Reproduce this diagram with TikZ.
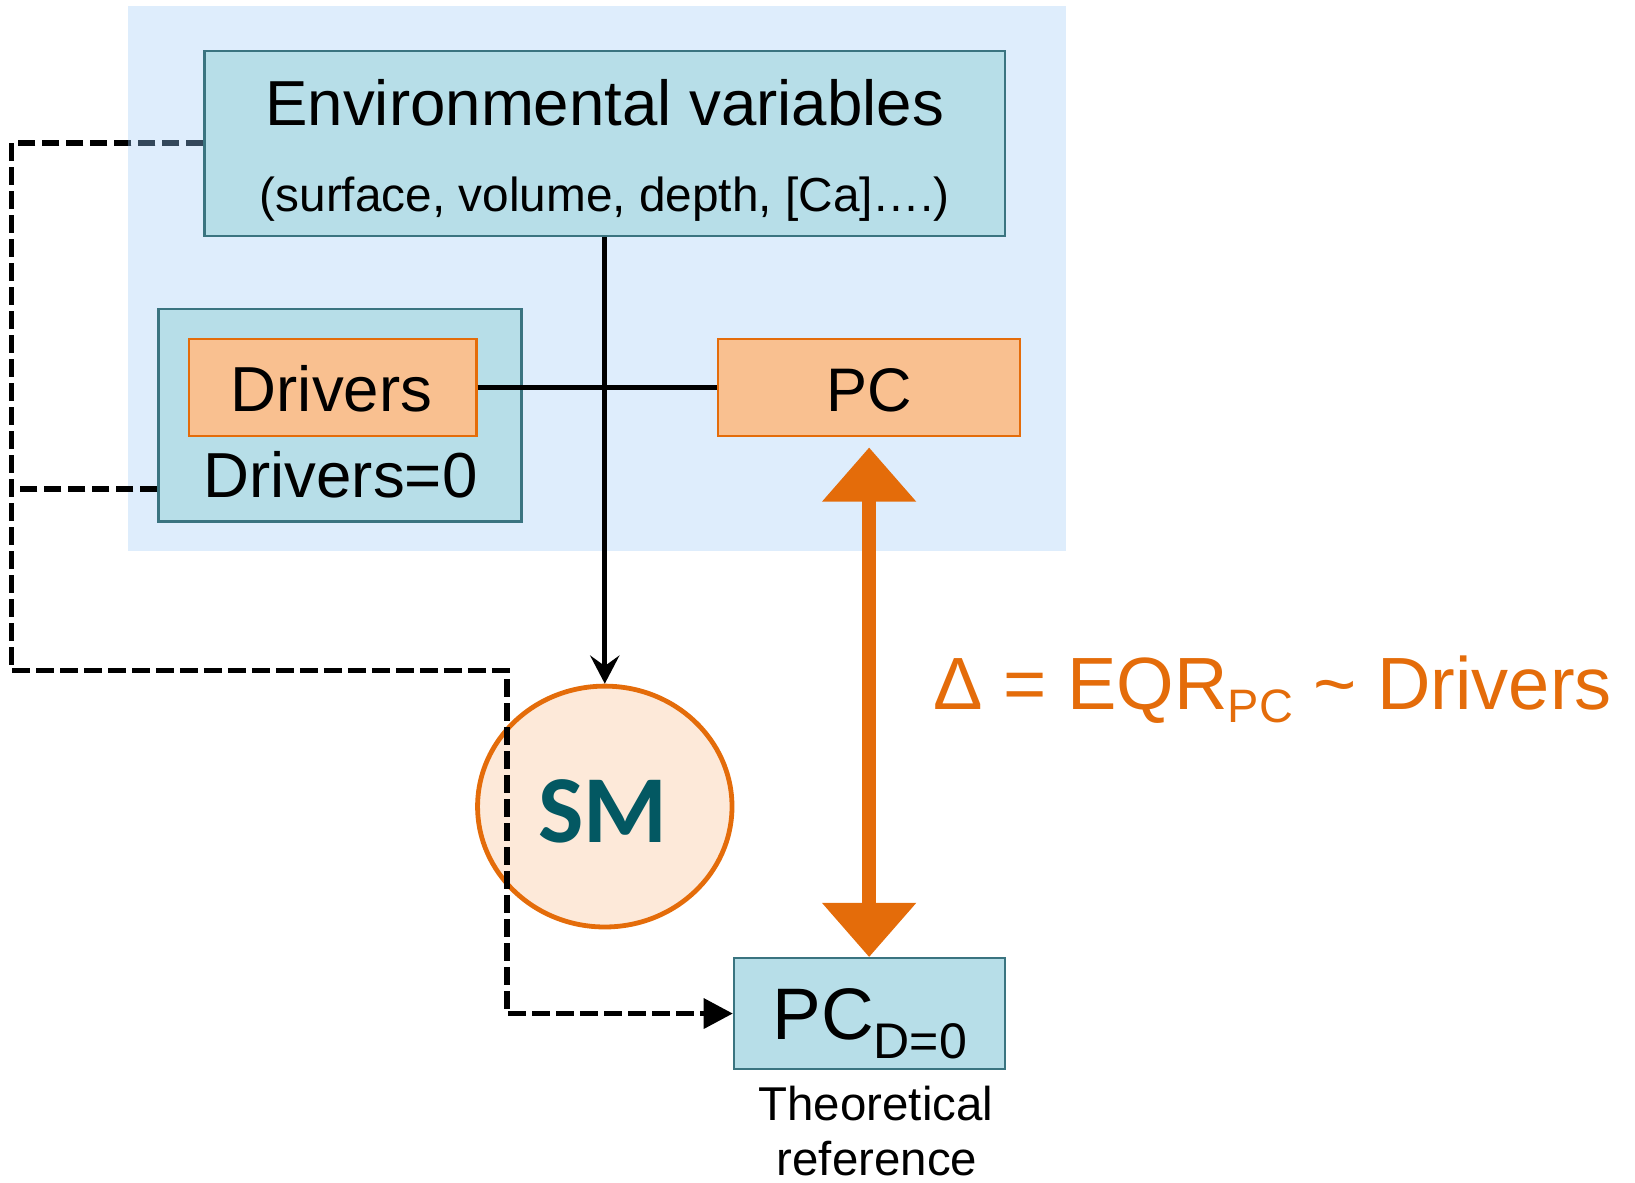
\documentclass[tikz,border=0pt]{standalone}
\usepackage{fontspec}
\setmainfont{Liberation Sans}
\newfontfamily\smfont{Carlito}
\usetikzlibrary{arrows.meta,calc,shapes.geometric}
\definecolor{bgblue}{HTML}{DEEDFC}
\definecolor{tealfill}{HTML}{B7DEE8}
\definecolor{tealdraw}{HTML}{3A7480}
\definecolor{orfill}{HTML}{F9C090}
\definecolor{ordraw}{HTML}{E46C0A}
\definecolor{smfill}{HTML}{FDE9D9}
\definecolor{smtext}{HTML}{035862}
\definecolor{slate}{HTML}{33475A}
\begin{document}
\begin{tikzpicture}[x=0.5pt,y=-0.5pt,
  tealbox/.style={draw=tealdraw,fill=tealfill,line width=1.1pt,inner sep=0pt},
  orbox/.style={draw=ordraw,fill=orfill,line width=1.1pt,inner sep=0pt},
  txt/.style={inner sep=0pt,anchor=base},
  solidline/.style={line width=2.3pt,black},
  dashline/.style={line width=2.8pt,black,dash pattern=on 8.5pt off 3pt}]
\useasboundingbox (0,0) rectangle (1568,1134);
\fill[bgblue] (123,6) rectangle (1022,528);
% boxes
\node[tealbox,minimum width=384pt,minimum height=88.5pt] (env) at (580,137.5) {};
\node[txt] (envtitle) at (580,120) {\fontsize{30.5}{36}\selectfont Environmental variables};
\node[txt] (envsub) at (580,203) {\fontsize{22.9}{27}\selectfont (surface, volume, depth, [Ca]….)};
\node[tealbox,minimum width=174pt,minimum height=102pt] (d0) at (326,398) {};
\node[orbox,minimum width=138pt,minimum height=46.5pt] (drv) at (319,371.5) {};
\node[txt] (drvtxt) at (318,395) {\fontsize{30.5}{36}\selectfont Drivers};
\node[txt] (d0txt) at (326.5,477) {\fontsize{30.5}{36}\selectfont Drivers=0};
\node[orbox,minimum width=145pt,minimum height=46.5pt] (pc) at (833.5,371.5) {};
\node[txt] (pctxt) at (833.5,395) {\fontsize{29.5}{34}\selectfont PC};
\node[ellipse,draw=ordraw,fill=smfill,line width=2.3pt,minimum width=122pt,minimum height=115.5pt,inner sep=0pt] (sm) at (580,773.5) {};
\node[txt,text=smtext] (smtxt) at (578,808) {\fontsize{46}{50}\smfont\bfseries SM};
\node[tealbox,minimum width=130pt,minimum height=53pt] (pc0) at (834,972) {};
\node[txt] (pc0txt) at (834,997) {\fontsize{35}{40}\selectfont PC\raisebox{-9pt}{\fontsize{24}{28}\selectfont D=0}};
\node[txt] (theo1) at (840,1075) {\fontsize{22.75}{27}\selectfont Theoretical};
\node[txt] (theo2) at (841,1127) {\fontsize{22.75}{27}\selectfont reference};
\node[txt,anchor=base west,text=ordraw] (delta) at (895,680) {\fontsize{35.5}{40}\selectfont Δ = EQR\raisebox{-6.5pt}{\fontsize{22.5}{26}\selectfont PC} \textasciitilde{} Drivers};
% connectors
\draw[solidline,-{Stealth[length=13.5pt,width=14pt,inset=5pt]}] (env.south) -- (sm.north);
\draw[solidline] (drv.east) -- (pc.west);
\draw[ordraw,line width=7pt,{Triangle[width=43.5pt,length=26pt]}-{Triangle[width=43.5pt,length=26pt]}] ([yshift=-5pt]pc.south) -- (pc.south |- pc0.north);
\coordinate (xl) at (11,0);
\coordinate (bgl) at (123,0);
\coordinate (c2) at (486,643);
\coordinate (d0l) at ([yshift=16pt]d0.south west);
\draw[dashline,-{Triangle[length=14pt,width=14pt]}] (env.west) -- (env.west -| xl) |- (c2) |- (pc0.west);
\draw[dashline,slate] (env.west) -- (env.west -| bgl);
\draw[dashline] (d0l) -- (d0l -| xl);
\end{tikzpicture}
\end{document}
